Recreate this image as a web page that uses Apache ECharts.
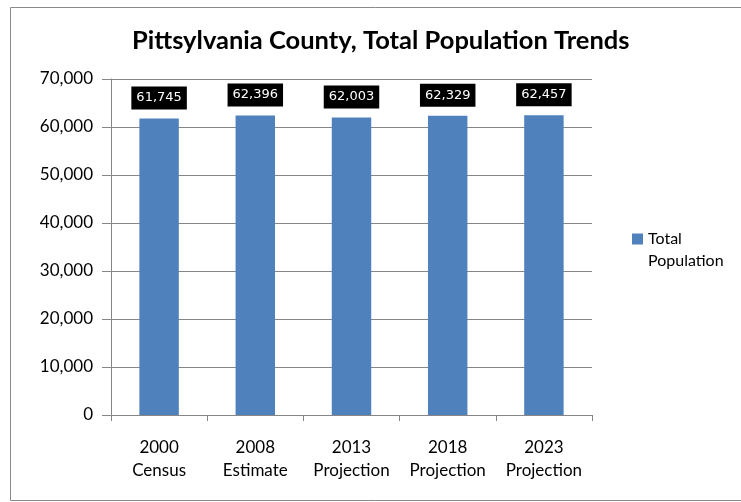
<!DOCTYPE html>
<html>
<head>
<meta charset="utf-8">
<script src="https://cdn.jsdelivr.net/npm/echarts@6/dist/echarts.min.js"></script>
<style>html,body{margin:0;padding:0;background:#fff;}#c{width:741px;height:502px;}</style>
</head>
<body>
<div id="c"></div>
<script>
const categories = ['2000\nCensus', '2008\nEstimate', '2013\nProjection', '2018\nProjection', '2023\nProjection'];
const population = [61745, 62396, 62003, 62329, 62457];
const seriesName = 'Total Population';
const titleText = 'Pittsylvania County, Total Population Trends';

const chart = echarts.init(document.getElementById('c'), null, {renderer: 'canvas'});
const FONT = 'Lato';
chart.setOption({
  animation: false,
  backgroundColor: '#fff',
  textStyle: {fontFamily: FONT},
  title: {
    text: titleText, left: 132, top: 28, padding: 0,
    textStyle: {fontFamily: FONT, fontWeight: 'bold', fontSize: 25.5, color: '#000'}
  },
  graphic: [{
    type: 'polyline', silent: true,
    shape: {points: [[741, 7.5], [10.5, 7.5], [10.5, 500.5], [741, 500.5]]},
    style: {stroke: '#8a8a8a', lineWidth: 1, fill: null}
  }],
  legend: {
    left: 632, top: 206, orient: 'vertical', padding: 0,
    itemWidth: 11, itemHeight: 11, itemGap: 4,
    icon: 'rect',
    formatter: () => ' \nTotal\nPopulation',
    textStyle: {fontFamily: FONT, fontSize: 16, color: '#000', lineHeight: 22}
  },
  grid: {left: 111, right: 149, top: 79, bottom: 87, containLabel: false},
  xAxis: {
    type: 'category', data: categories,
    axisLine: {lineStyle: {color: '#868686', width: 1}},
    axisTick: {show: true, length: 6, alignWithLabel: false, lineStyle: {color: '#868686'}},
    axisLabel: {color: '#000', fontSize: 17, lineHeight: 23, margin: 21, fontFamily: FONT, interval: 0}
  },
  yAxis: {
    type: 'value', min: 0, max: 70000, interval: 10000,
    axisLine: {show: true, lineStyle: {color: '#868686', width: 1}},
    axisTick: {show: true, length: 9, inside: false, lineStyle: {color: '#868686'}},
    splitLine: {show: true, lineStyle: {color: '#868686', width: 1}},
    axisLabel: {
      color: '#000', fontSize: 17, margin: 18, fontFamily: FONT,
      formatter: v => v.toLocaleString('en-US')
    }
  },
  series: [{
    name: seriesName, type: 'bar', data: population,
    barWidth: '41%',
    itemStyle: {color: '#4F81BD'},
    label: {
      show: true, position: 'top', distance: 9,
      backgroundColor: '#000', color: '#fff', padding: [5, 5, 5, 5],
      fontFamily: 'DejaVu Sans', fontSize: 13,
      formatter: p => p.value.toLocaleString('en-US')
    }
  }]
});
</script>
</body>
</html>
